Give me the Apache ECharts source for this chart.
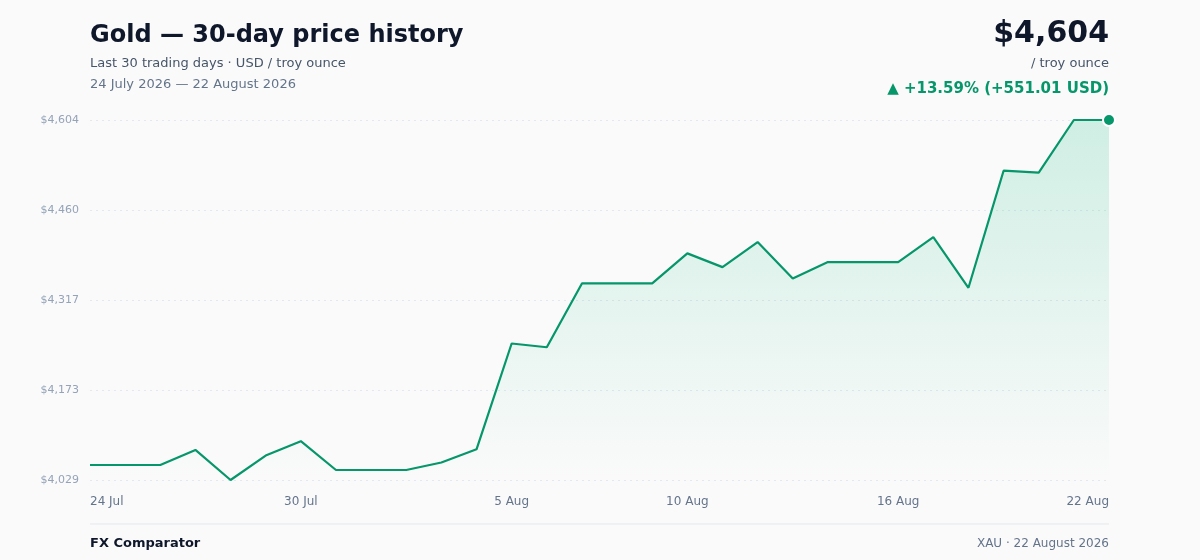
<!DOCTYPE html>
<html>
<head>
<meta charset="utf-8">
<script src="https://cdn.jsdelivr.net/npm/echarts@6/dist/echarts.min.js"></script>
<style>
html,body{margin:0;padding:0;background:#fafafa;}
#c{width:1200px;height:560px;}
</style>
</head>
<body>
<div id="c"></div>
<script>
const categories = ['24 Jul','25 Jul','26 Jul','27 Jul','28 Jul','29 Jul','30 Jul','31 Jul',
  '1 Aug','2 Aug','3 Aug','4 Aug','5 Aug','6 Aug','7 Aug','8 Aug','9 Aug','10 Aug','11 Aug',
  '12 Aug','13 Aug','14 Aug','15 Aug','16 Aug','17 Aug','18 Aug','19 Aug','20 Aug','21 Aug','22 Aug'];
const prices = [4052.99,4052.99,4052.99,4077,4029,4068,4091,4045,4045,4045,4057,4078,
  4247,4241,4343,4343,4343,4391,4369,4409,4351,4377,4377,4377,4417,4336,4523,4520,4604,4604];
const labelIndices = [0,6,12,17,23,29];
const yMin = 4029, yMax = 4604;

const font = 'DejaVu Sans';
const green = '#059669';
const chart = echarts.init(document.getElementById('c'));
const fmtUSD = v => '$' + Math.round(v).toLocaleString('en-US');
const T = (o) => Object.assign({ padding: 0 }, o);

chart.setOption({
  backgroundColor: '#fafafa',
  animation: false,
  textStyle: { fontFamily: font },
  title: [
    T({ text: 'Gold — 30-day price history', left: 90, top: 24,
      textStyle: { fontFamily: font, fontSize: 24, fontWeight: 'bold', color: '#0f172a' } }),
    T({ text: 'Last 30 trading days · USD / troy ounce', left: 90, top: 57,
      textStyle: { fontFamily: font, fontSize: 13, fontWeight: 'normal', color: '#475569' } }),
    T({ text: '24 July 2026 — 22 August 2026', left: 90, top: 78,
      textStyle: { fontFamily: font, fontSize: 13, fontWeight: 'normal', color: '#64748b' } }),
    T({ text: fmtUSD(prices[prices.length-1]), right: 91, top: 19,
      textStyle: { fontFamily: font, fontSize: 30, fontWeight: 'bold', color: '#0f172a' } }),
    T({ text: '/ troy ounce', right: 91, top: 57,
      textStyle: { fontFamily: font, fontSize: 13, fontWeight: 'normal', color: '#475569' } }),
    T({ text: '▲ +13.59% (+551.01 USD)', right: 91, top: 82,
      textStyle: { fontFamily: font, fontSize: 15, fontWeight: 'bold', color: green } }),
    T({ text: 'FX Comparator', left: 90, top: 537,
      textStyle: { fontFamily: font, fontSize: 13, fontWeight: 'bold', color: '#0f172a' } }),
    T({ text: 'XAU · 22 August 2026', right: 91, top: 538,
      textStyle: { fontFamily: font, fontSize: 12, fontWeight: 'normal', color: '#64748b' } })
  ],
  graphic: [
    { type: 'line', shape: { x1: 90, y1: 524, x2: 1109, y2: 524 },
      style: { stroke: '#e5e7eb', lineWidth: 1 } }
  ],
  grid: { left: 90, right: 91, top: 120, bottom: 80 },
  xAxis: {
    type: 'category',
    data: categories,
    boundaryGap: false,
    axisLine: { show: false },
    axisTick: { show: false },
    splitLine: { show: false },
    axisLabel: {
      interval: (i) => labelIndices.includes(i),
      color: '#64748b', fontSize: 12, fontFamily: font, margin: 16,
      alignMinLabel: 'left', alignMaxLabel: 'right'
    }
  },
  yAxis: {
    type: 'value',
    min: yMin, max: yMax, interval: (yMax - yMin) / 4,
    axisLine: { show: false },
    axisTick: { show: false },
    axisLabel: { formatter: fmtUSD, color: '#94a3b8', fontSize: 11, fontFamily: font, margin: 11 },
    splitLine: { lineStyle: { color: '#e2e8f0', type: [2, 4], width: 1 } }
  },
  series: [{
    type: 'line',
    data: prices,
    showSymbol: false,
    symbol: 'circle',
    symbolSize: 12,
    lineStyle: { color: green, width: 2.2 },
    itemStyle: { color: green },
    areaStyle: {
      color: new echarts.graphic.LinearGradient(0, 0, 0, 1, [
        { offset: 0, color: 'rgba(16,185,129,0.26)' },
        { offset: 1, color: 'rgba(16,185,129,0.0)' }
      ])
    },
    markPoint: {
      symbol: 'circle', symbolSize: 12,
      itemStyle: { color: green, borderColor: '#ffffff', borderWidth: 2 },
      label: { show: false },
      data: [{ coord: [prices.length - 1, prices[prices.length - 1]] }]
    }
  }]
});
</script>
</body>
</html>
